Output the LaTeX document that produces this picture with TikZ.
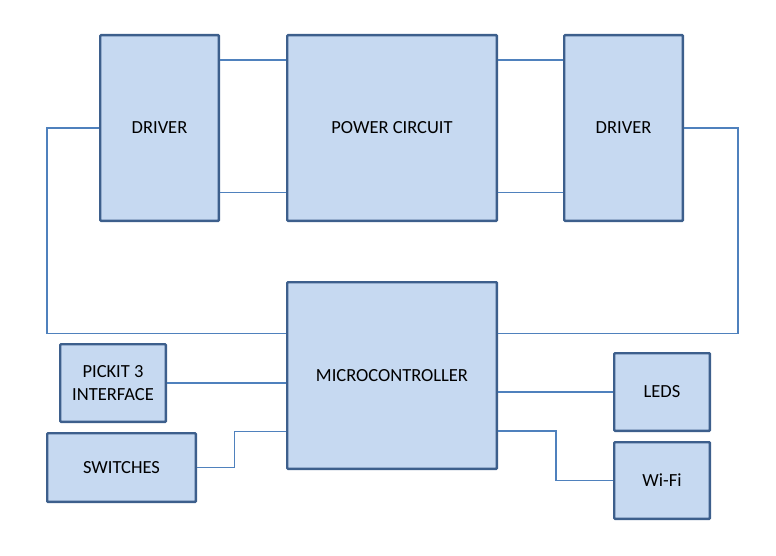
\documentclass[tikz,border=0pt]{standalone}
\usepackage{fontspec}
\setmainfont{Carlito}
\definecolor{boxfill}{HTML}{C6D9F1}
\definecolor{boxdraw}{HTML}{3D5F8C}
\definecolor{wire}{HTML}{4F81BD}
\begin{document}
\begin{tikzpicture}[x=1pt,y=-1pt,
  blk/.style={draw=boxdraw,fill=boxfill,line width=2.4pt,rounded corners=0.8pt,
    inner sep=0pt,font=\fontsize{18.5}{22.3}\selectfont,align=center,text=black},
  wireline/.style={draw=wire,line width=1.2pt}]
\useasboundingbox (0,0) rectangle (776,556);
\node[blk,minimum width=118.6pt,minimum height=185.6pt] (ldrv) at (159.5,128) {DRIVER};
\node[blk,minimum width=209.6pt,minimum height=185.6pt] (pwr) at (392,128) {POWER CIRCUIT};
\node[blk,minimum width=118.6pt,minimum height=185.6pt] (rdrv) at (623.5,128) {DRIVER};
\node[blk,minimum width=209.6pt,minimum height=186.6pt,text depth=0pt] (mcu) at (392,375.5) {MICROCONTROLLER};
\node[blk,minimum width=105.6pt,minimum height=77.6pt] (pick) at (113,383) {PICKIT 3\\INTERFACE};
\node[blk,minimum width=148.6pt,minimum height=68.6pt] (sw) at (121.5,467.5) {SWITCHES};
\node[blk,minimum width=95.6pt,minimum height=77.6pt] (leds) at (662,392) {LEDS};
\node[blk,minimum width=95.6pt,minimum height=76.6pt] (wifi) at (662,480.5) {Wi-Fi};
\coordinate (lw) at (47,333.5);
\coordinate (rw) at (738,333.5);
\coordinate (sj) at (234.5,431.5);
\coordinate (wj) at (556,431);
\draw[wireline] ([yshift=68pt]ldrv.east) -- ([yshift=68pt]pwr.west);
\draw[wireline] ([yshift=-64.5pt]ldrv.east) -- ([yshift=-64.5pt]pwr.west);
\draw[wireline] ([yshift=68pt]pwr.east) -- ([yshift=68pt]rdrv.west);
\draw[wireline] ([yshift=-64.5pt]pwr.east) -- ([yshift=-64.5pt]rdrv.west);
\draw[wireline] (ldrv.west) -| (lw) -- (lw -| mcu.west);
\draw[wireline] (rdrv.east) -| (rw) -- (rw -| mcu.east);
\draw[wireline] (pick.east) -- (pick.east -| mcu.west);
\draw[wireline] (sw.east) -| (sj) -- (sj -| mcu.west);
\draw[wireline] (leds.west) -- (leds.west -| mcu.east);
\draw[wireline] (wj -| mcu.east) -- (wj) |- (wifi.west);
\end{tikzpicture}
\end{document}
